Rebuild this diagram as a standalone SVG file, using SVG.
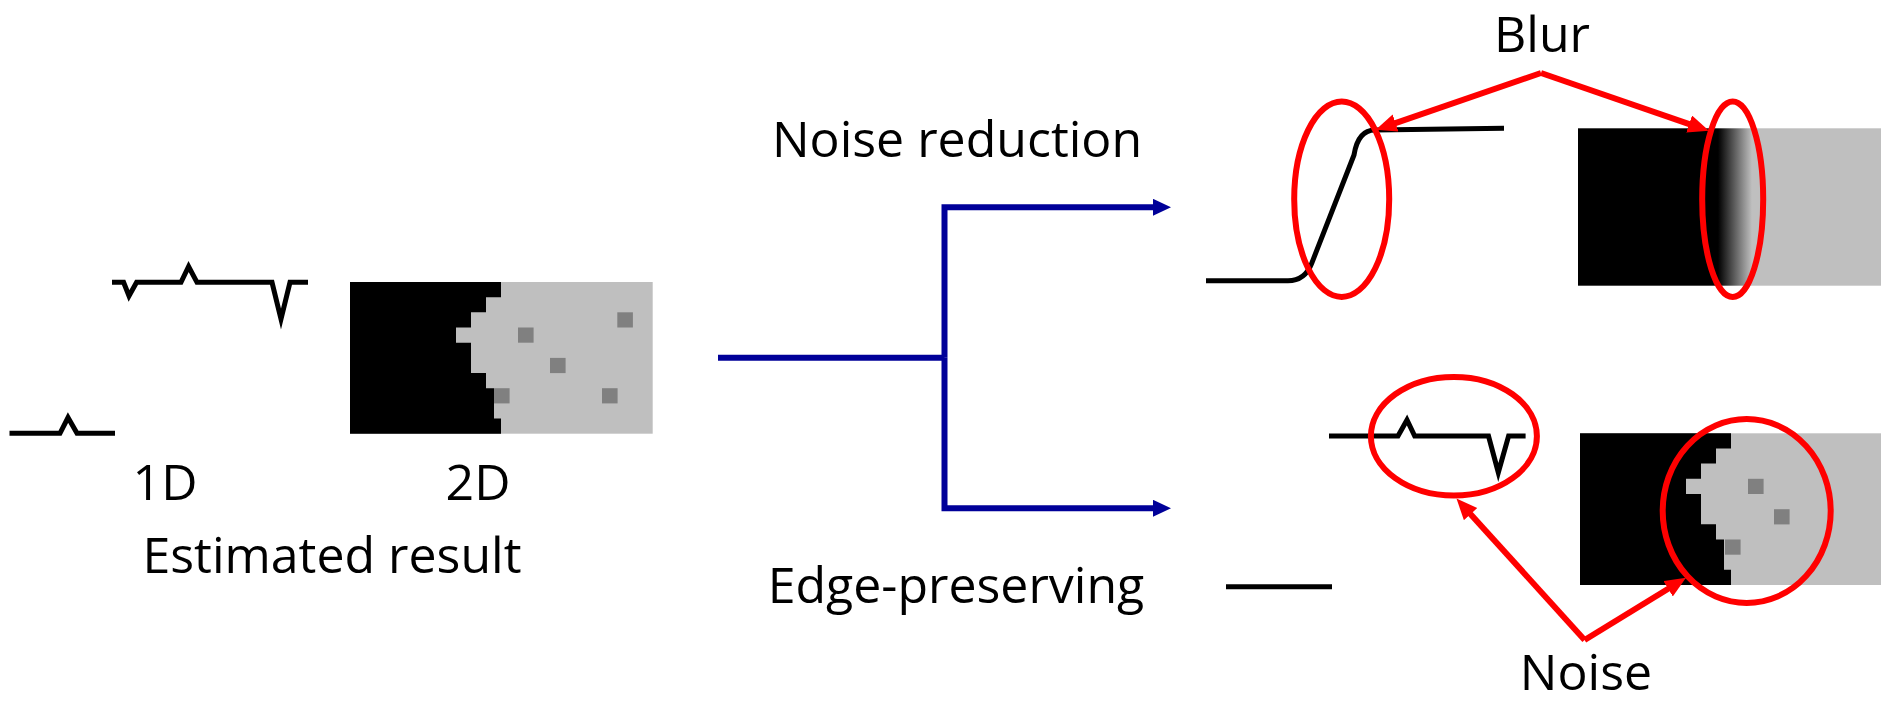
<svg xmlns="http://www.w3.org/2000/svg" width="1881" height="705" viewBox="0 0 1881 705">
<style>
.t{font-family:"Open Sans","Noto Sans","Liberation Sans",sans-serif;font-size:50px;fill:#000;text-anchor:middle}
.sig{fill:none;stroke:#000;stroke-width:5;stroke-linejoin:miter;stroke-miterlimit:10}
.blue{fill:none;stroke:#000099;stroke-width:6;stroke-linejoin:miter}
.red{fill:none;stroke:#FF0000;stroke-width:6}
.lg{fill:#BFBFBF}
.dg{fill:#808080}
</style>
<defs>
<path id="edge" d="M0,0 H151 V15.2 H136 V30.3 H121 V45.5 H106 V60.7 H121 V91 H136 V106.2 H144 V136.5 H151 V151.7 H0 Z" fill="#000"/>
<linearGradient id="blurg" gradientUnits="userSpaceOnUse" x1="1718" y1="0" x2="1752" y2="0">
<stop offset="0" stop-color="#000"/>
<stop offset="1" stop-color="#BFBFBF"/>
</linearGradient>
<marker id="ab" markerUnits="userSpaceOnUse" markerWidth="20" markerHeight="18" refX="3" refY="8.5" orient="auto">
<path d="M0,0 L18,8.5 L0,17 Z" fill="#000099"/>
</marker>
<marker id="ar" markerUnits="userSpaceOnUse" markerWidth="24" markerHeight="20" refX="4" refY="9" orient="auto">
<path d="M0,0 L21,9 L0,18 Z" fill="#FF0000"/>
</marker>
</defs>

<g id="estimated-result">
<path class="sig" d="M112,282.3 H123.6 L129,296 L136.6,282.3 H181 L188.6,266.5 L197,282.3 H272 L281,319 L290,282.3 H308"/>
<path class="sig" d="M9.5,433.3 H60 L68,417.5 L77,433.3 H115"/>
<rect class="lg" x="350" y="282" width="302.7" height="151.7"/>
<use href="#edge" x="350" y="282"/>
<rect class="dg" x="617.3" y="312.3" width="15.6" height="15.2"/>
<rect class="dg" x="518" y="327.5" width="15.6" height="15.2"/>
<rect class="dg" x="550" y="357.9" width="15.6" height="15.2"/>
<rect class="dg" x="494" y="388.2" width="15.6" height="15.2"/>
<rect class="dg" x="602" y="388.2" width="15.6" height="15.2"/>
<text class="t" x="165" y="500">1D</text>
<text class="t" x="478" y="500">2D</text>
<text class="t" x="332" y="573">Estimated result</text>
</g>

<g id="noise-reduction-label">
<text class="t" x="957" y="157">Noise reduction</text>
</g>

<g id="edge-preserving-label">
<text class="t" x="956" y="603">Edge-preserving</text>
</g>

<g id="blur-result">
<path class="sig" d="M1206,280.7 H1288 Q1304.9,280.7 1311.7,263.3 L1354,155 Q1358,130 1375,130 L1504,128.3"/>
<rect x="1578" y="128.3" width="303" height="157.4" fill="url(#blurg)"/>
</g>

<g id="edge-preserving-result">
<path class="sig" d="M1329,436 H1398 L1407,420 L1414.7,436 H1488.5 L1498.3,472.5 L1508.6,436 H1525.6"/>
<path class="sig" d="M1226,586.7 H1332"/>
<rect class="lg" x="1580" y="433.3" width="301" height="151.7"/>
<use href="#edge" x="1580" y="433.3"/>
<rect class="dg" x="1748" y="478.8" width="15.6" height="15.2"/>
<rect class="dg" x="1774" y="509.2" width="15.6" height="15.2"/>
<rect class="dg" x="1725" y="539.5" width="15.6" height="15.2"/>
</g>

<g id="annotations">
<ellipse class="red" cx="1341.7" cy="199.2" rx="47.5" ry="97.7"/>
<ellipse class="red" cx="1732.7" cy="199.2" rx="30.5" ry="97.8"/>
<ellipse class="red" cx="1453.9" cy="436.2" rx="83" ry="59.3"/>
<ellipse class="red" cx="1746.7" cy="511" rx="84" ry="92"/>
<text class="t" x="1542" y="52">Blur</text>
<text class="t" x="1586" y="690">Noise</text>
</g>

<g id="connectors">
<path class="blue" d="M718,357.7 H944.5"/>
<path class="blue" d="M944.5,357.7 V207.3 H1156" marker-end="url(#ab)"/>
<path class="blue" d="M944.5,357.7 V508.3 H1156" marker-end="url(#ab)"/>
<path class="red" d="M1541,73 L1391.8,124.3" marker-end="url(#ar)"/>
<path class="red" d="M1541,73 L1692.9,125.3" marker-end="url(#ar)"/>
<path class="red" d="M1584.6,640 L1467.9,511.2" marker-end="url(#ar)"/>
<path class="red" d="M1584.6,640 L1671.5,586.7" marker-end="url(#ar)"/>
</g>
</svg>
